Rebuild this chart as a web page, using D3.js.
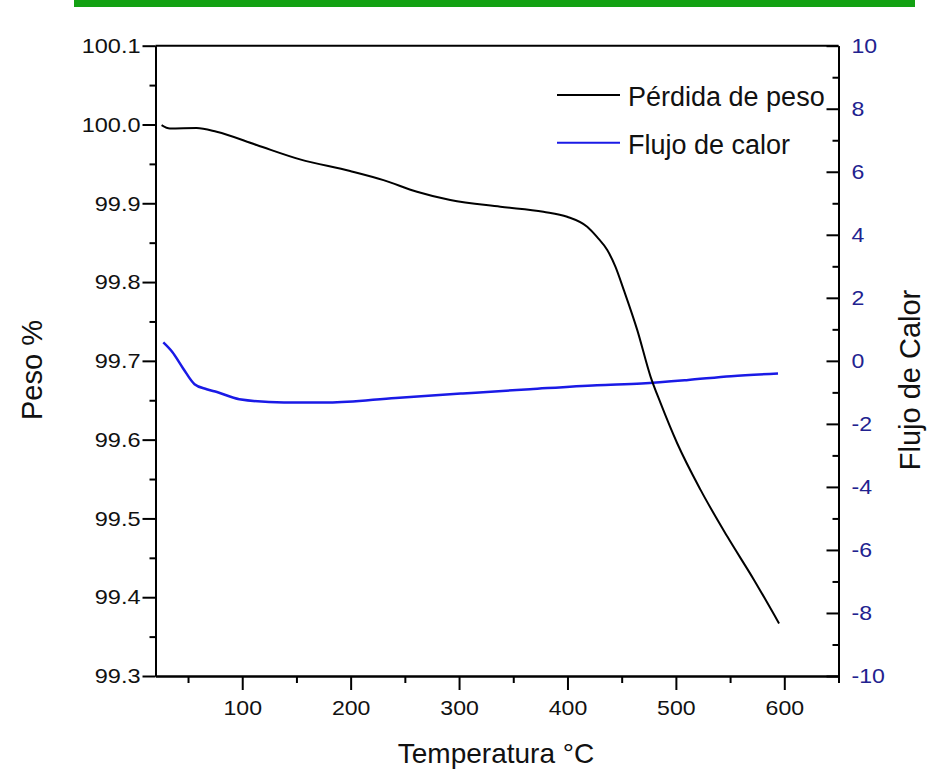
<!DOCTYPE html>
<html>
<head>
<meta charset="utf-8">
<script src="https://cdn.jsdelivr.net/npm/d3@7"></script>
<style>
  body { margin: 0; background: #fff; }
  text { font-family: "Liberation Sans", Arial, sans-serif; }
</style>
</head>
<body>
<svg id="chart" width="931" height="770"></svg>
<script>
// temperatura (°C) y peso (%) de la curva negra
var tempPeso = [25.6, 33.3, 57.9, 76.4, 113.3, 153.3, 199.5, 230.3, 261.2, 291.9, 338.1, 377.8, 399.7, 418.2, 427.4, 436.7, 444.3, 452, 464.4, 476.7, 485.9, 501.3, 522.9, 547.6, 572.2, 595.2];
var peso = [99.9993, 99.995, 99.9955, 99.9908, 99.9739, 99.9557, 99.9409, 99.9294, 99.9146, 99.9041, 99.8956, 99.8892, 99.8829, 99.8702, 99.857, 99.8406, 99.8194, 99.7898, 99.739, 99.6797, 99.6463, 99.5951, 99.5359, 99.4766, 99.4216, 99.3666];

// temperatura y flujo de calor de la curva azul
var tempFlujo = [27.2, 35.5, 45.5, 56, 67.2, 76.7, 97.3, 138.5, 179.8, 241.6, 303.5, 365.4, 427.2, 468.4, 509.7, 550.9, 594.2];
var flujo = [0.584, 0.28, -0.241, -0.74, -0.9, -0.99, -1.216, -1.321, -1.321, -1.175, -1.035, -0.898, -0.771, -0.717, -0.613, -0.486, -0.40];

var xTicks = [100, 200, 300, 400, 500, 600];
var xMinor = [50, 150, 250, 350, 450, 550, 650];
var yTicks = [99.3, 99.4, 99.5, 99.6, 99.7, 99.8, 99.9, 100.0, 100.1];
var yMinor = [99.35, 99.45, 99.55, 99.65, 99.75, 99.85, 99.95, 100.05];
var y2Ticks = [-10, -8, -6, -4, -2, 0, 2, 4, 6, 8, 10];
var y2Minor = [-9, -7, -5, -3, -1, 1, 3, 5, 7, 9];

var series = ["Pérdida de peso", "Flujo de calor"];
var colors = ["#000000", "#1a1ae6"];

var svg = d3.select("#chart");

// barra verde superior
svg.append("rect")
   .attr("x", 74).attr("y", 0)
   .attr("width", 841).attr("height", 7)
   .attr("fill", "#13a113");

var pLeft = 155.5, pRight = 838.5, pTop = 45.7, pBottom = 676;

var x = d3.scaleLinear().domain([20, 650]).range([pLeft, pRight]);
var y = d3.scaleLinear().domain([99.3, 100.1]).range([pBottom, pTop]);
var y2 = d3.scaleLinear().domain([-10, 10]).range([pBottom, pTop]);

// borde superior
svg.append("line")
   .attr("x1", pLeft).attr("x2", pRight)
   .attr("y1", pTop).attr("y2", pTop)
   .attr("stroke", "#000").attr("stroke-width", 2);

// las etiquetas del original estan algo ensanchadas
function stretch(sel, k) {
  sel.each(function() {
    var w = this.getComputedTextLength();
    d3.select(this).attr("textLength", w * k).attr("lengthAdjust", "spacingAndGlyphs");
  });
}

function styleAxis(g) {
  g.select(".domain").attr("stroke-width", 2);
  g.selectAll(".tick line").attr("stroke-width", 2);
  g.selectAll(".tick text").style("font-size", "21px");
}

// eje x
svg.append("g")
   .attr("transform", "translate(0," + pBottom + ")")
   .call(d3.axisBottom(x).tickValues(xMinor).tickSize(7).tickFormat("").tickSizeOuter(0))
   .call(styleAxis);
var axX = svg.append("g")
   .attr("transform", "translate(0," + pBottom + ")")
   .call(d3.axisBottom(x).tickValues(xTicks).tickSize(14).tickPadding(10).tickSizeOuter(0))
   .call(styleAxis);
axX.selectAll(".tick text").attr("fill", "#111").call(stretch, 1.1);

// eje y izquierdo
svg.append("g")
   .attr("transform", "translate(" + pLeft + ",0)")
   .call(d3.axisLeft(y).tickValues(yMinor).tickSize(6).tickFormat("").tickSizeOuter(0))
   .call(styleAxis);
var axY = svg.append("g")
   .attr("transform", "translate(" + pLeft + ",0)")
   .call(d3.axisLeft(y).tickValues(yTicks).tickSize(13).tickPadding(2).tickFormat(d3.format(".1f")).tickSizeOuter(0))
   .call(styleAxis);
axY.selectAll(".tick text").attr("fill", "#111").call(stretch, 1.12);

// eje y derecho (marcas hacia dentro)
svg.append("g")
   .attr("transform", "translate(" + pRight + ",0)")
   .call(d3.axisRight(y2).tickValues(y2Minor).tickSize(-6).tickFormat("").tickSizeOuter(0))
   .call(styleAxis);
var ax2 = svg.append("g")
   .attr("transform", "translate(" + pRight + ",0)")
   .call(d3.axisRight(y2).tickValues(y2Ticks).tickSize(-12).tickSizeOuter(0)
         .tickFormat(function(d) { return String(d); }))
   .call(styleAxis);
ax2.selectAll(".tick text").attr("x", 13).attr("fill", "#22228f").call(stretch, 1.1);

// curvas
var linePeso = d3.line()
   .x(function(d, i) { return x(tempPeso[i]); })
   .y(function(d) { return y(d); })
   .curve(d3.curveMonotoneX);
var lineFlujo = d3.line()
   .x(function(d, i) { return x(tempFlujo[i]); })
   .y(function(d) { return y2(d); })
   .curve(d3.curveMonotoneX);

svg.append("path")
   .datum(flujo)
   .attr("d", lineFlujo)
   .attr("fill", "none")
   .attr("stroke", colors[1])
   .attr("stroke-width", 2.5);

svg.append("path")
   .datum(peso)
   .attr("d", linePeso)
   .attr("fill", "none")
   .attr("stroke", colors[0])
   .attr("stroke-width", 2);

// leyenda
var legend = svg.append("g").attr("transform", "translate(557,95)");
legend.selectAll("line")
   .data(series)
   .enter()
   .append("line")
   .attr("x1", 0).attr("x2", 63)
   .attr("y1", function(d, i) { return i * 47.7; })
   .attr("y2", function(d, i) { return i * 47.7; })
   .attr("stroke", function(d, i) { return colors[i]; })
   .attr("stroke-width", 2);
legend.selectAll("text")
   .data(series)
   .enter()
   .append("text")
   .attr("x", 71)
   .attr("y", function(d, i) { return i * 47.7 + 11; })
   .style("font-size", "27px")
   .attr("fill", "#111")
   .text(function(d) { return d; });

// titulos de ejes
svg.append("text")
   .attr("x", 496).attr("y", 763)
   .attr("text-anchor", "middle")
   .style("font-size", "28px")
   .attr("fill", "#111")
   .text("Temperatura °C");

svg.append("text")
   .attr("transform", "translate(42,370) rotate(-90)")
   .attr("text-anchor", "middle")
   .style("font-size", "29px")
   .attr("fill", "#111")
   .text("Peso %");

svg.append("text")
   .attr("transform", "translate(920,380) rotate(-90)")
   .attr("text-anchor", "middle")
   .style("font-size", "29px")
   .attr("fill", "#111")
   .text("Flujo de Calor");
</script>
</body>
</html>
